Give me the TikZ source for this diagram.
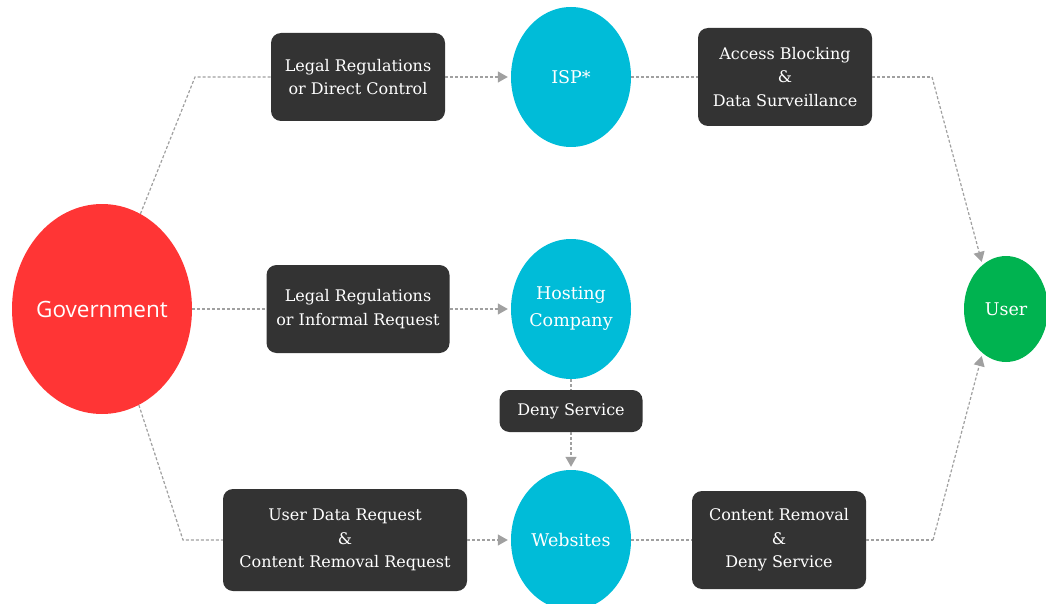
\documentclass[tikz,border=0pt]{standalone}
\usepackage{fontspec}
\setmainfont{DejaVu Serif}
\newfontfamily\govfont{Open Sans}
\usetikzlibrary{positioning,shapes.geometric,arrows.meta}
\definecolor{govred}{HTML}{FF3535}
\definecolor{actorblue}{HTML}{00BCD8}
\definecolor{usergreen}{HTML}{00B350}
\definecolor{boxdark}{HTML}{333333}
\definecolor{linkgray}{HTML}{A0A0A0}

\begin{document}
\begin{tikzpicture}[%
	x=1pt, y=-1pt,
	every node/.style = {align=center, text=white, font=\fontsize{16}{23.5}\selectfont},
	actor/.style = {ellipse, inner sep=0pt, fill=actorblue, minimum width=120pt, minimum height=140pt,
	  font=\fontsize{17.5}{27}\selectfont},
	action/.style = {rectangle, rounded corners=10pt, fill=boxdark, inner sep=0pt},
	link/.style = {draw=linkgray, line width=1.2pt, dash pattern=on 3pt off 2pt},
	linkto/.style = {link, -{Triangle[length=10pt,width=11pt,fill=linkgray]}, shorten >=3pt}
	]
  \useasboundingbox (0,0) rectangle (1046,604);
  % actors
  \node [ellipse, inner sep=0pt, fill=govred, minimum width=180pt, minimum height=210pt,
         font=\govfont\fontsize{22.5}{28}\selectfont] (gov) at (102,309) {\makebox[100pt]{Government}};
  \node [actor] (isp) at (571,77) {ISP*};
  \node [actor] (host) at (571,309) {Hosting\\Company};
  \node [actor] (web) at (571,540) {Websites};
  \node [actor, fill=usergreen, minimum width=84pt, minimum height=106pt] (user) at (1006,309) {User};
  % actions
  \node [action, minimum width=174pt, minimum height=88pt] (legA) at (358,77) {Legal Regulations\\or Direct Control};
  \node [action, minimum width=174pt, minimum height=98pt] (block) at (785,77) {Access Blocking\\\&\\Data Surveillance};
  \node [action, minimum width=183pt, minimum height=88pt] (legB) at (358,309) {Legal Regulations\\or Informal Request};
  \node [action, minimum width=143pt, minimum height=42pt] (deny) at (571,411) {Deny Service};
  \node [action, minimum width=244pt, minimum height=102pt] (req) at (345,540) {User Data Request\\\&\\Content Removal Request};
  \node [action, minimum width=174pt, minimum height=98pt] (remove) at (779,540) {Content Removal\\\&\\Deny Service};
  % bends
  \coordinate (govTop) at (195,77);
  \coordinate (govBot) at (183,540);
  \coordinate (blockBend) at (932,77);
  \coordinate (removeBend) at (933,540);
  % connectors
  \draw [link] (gov.68) -- (govTop) -- (legA.west);
  \draw [linkto] (legA.east) -- (isp.west);
  \draw [link] (isp.east) -- (block.west);
  \draw [link] (block.east) -- (blockBend);
  \draw [linkto] (blockBend) -- (user.118);
  \draw [link] (gov.east) -- (legB.west);
  \draw [linkto] (legB.east) -- (host.west);
  \draw [link] (host.south) -- (deny.north);
  \draw [linkto] (deny.south) -- (web.north);
  \draw [link] (gov.-69) -- (govBot) -- (req.west);
  \draw [linkto] (req.east) -- (web.west);
  \draw [link] (web.east) -- (remove.west);
  \draw [link] (remove.east) -- (removeBend);
  \draw [linkto] (removeBend) -- (user.-118);
\end{tikzpicture}
\end{document}
